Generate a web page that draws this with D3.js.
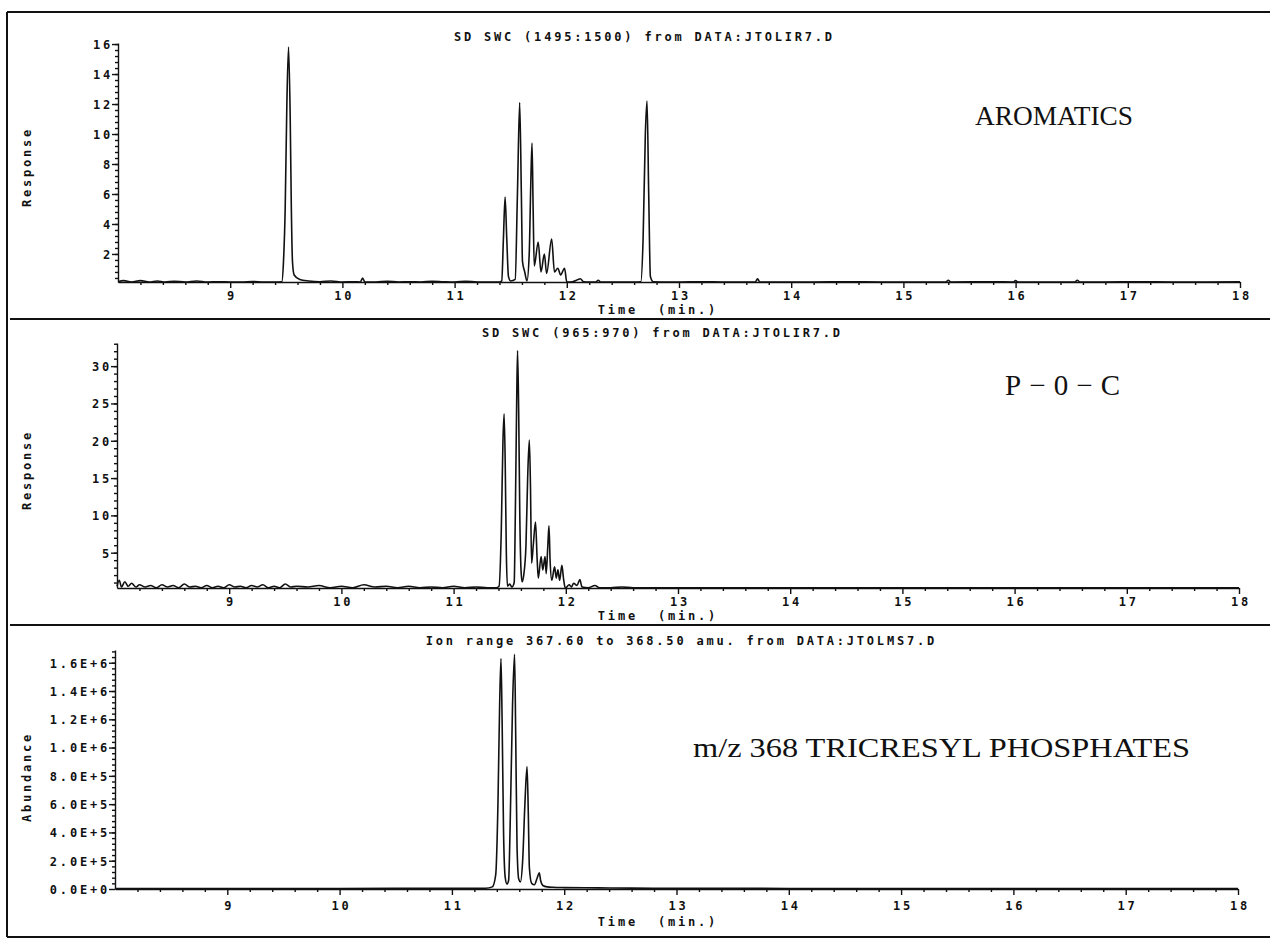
<!DOCTYPE html>
<html>
<head>
<meta charset="utf-8">
<script src="https://cdn.jsdelivr.net/npm/d3@7"></script>
<style>
  body { margin: 0; background: #fff; }
  svg { display: block; }
  .mono { font-family: "DejaVu Sans Mono", monospace; font-size: 12px; font-weight: bold; letter-spacing: 2.8px; fill: #111; white-space: pre; }
  .tick text { font-family: "DejaVu Sans Mono", monospace; font-size: 12px; font-weight: bold; letter-spacing: 2.8px; fill: #111; }
  .tick line, .domain { stroke: #111; stroke-width: 1.4px; }
  .big { font-family: "Liberation Serif", "Times New Roman", serif; font-size: 27px; fill: #111; }
</style>
</head>
<body>
<div id="chart"></div>
<script>
// chromatogram traces, [time (min), value]
var aromatics = [
  [8.00,0.15],[8.05,0.22],[8.12,0.10],[8.20,0.22],[8.28,0.12],[8.35,0.20],[8.42,0.10],[8.50,0.18],
  [8.60,0.10],[8.70,0.20],[8.80,0.12],[8.90,0.15],[9.00,0.05],[9.10,0.10],[9.20,0.16],[9.30,0.10],
  [9.40,0.08],[9.46,0.15],[9.475,1.5],[9.49,5],[9.505,12],[9.52,15.8],[9.535,11],[9.545,5],
  [9.555,1.5],[9.57,0.6],[9.62,0.3],[9.70,0.2],[9.80,0.15],[9.90,0.2],[10.00,0.10],[10.10,0.15],
  [10.16,0.12],[10.18,0.4],[10.20,0.12],[10.30,0.12],[10.40,0.18],[10.50,0.10],[10.60,0.15],[10.70,0.10],
  [10.80,0.18],[10.90,0.15],[11.00,0.12],[11.10,0.18],[11.20,0.10],[11.30,0.12],[11.40,0.10],
  [11.42,0.2],[11.435,3],[11.45,5.8],[11.465,3],[11.48,0.5],[11.50,0.2],[11.54,0.3],[11.56,6],
  [11.58,12.1],[11.595,6],[11.605,1.5],[11.625,0.8],[11.645,0.2],[11.665,2],[11.68,7],[11.69,9.4],
  [11.70,5],[11.71,1.2],[11.745,2.8],[11.77,0.8],[11.80,2.0],[11.82,0.7],[11.865,3.0],[11.89,0.8],
  [11.92,1.05],[11.945,0.6],[11.98,1.05],[12.00,0.05],[12.05,0.15],[12.10,0.3],[12.12,0.35],
  [12.15,0.15],[12.20,0.10],[12.26,0.12],[12.28,0.25],[12.30,0.10],[12.40,0.10],[12.50,0.12],[12.60,0.10],
  [12.66,0.15],[12.68,3],[12.70,10],[12.715,12.2],[12.73,6],[12.745,0.5],[12.77,0.15],[12.90,0.12],
  [13.00,0.10],[13.20,0.15],[13.40,0.10],[13.60,0.12],[13.68,0.12],[13.70,0.35],[13.72,0.10],[13.90,0.12],
  [14.20,0.10],[14.50,0.15],[14.80,0.10],[15.10,0.12],[15.38,0.12],[15.40,0.25],[15.42,0.10],[15.80,0.15],
  [15.98,0.12],[16.00,0.22],[16.02,0.12],[16.30,0.12],[16.53,0.12],[16.55,0.25],[16.57,0.10],[16.80,0.10],
  [17.10,0.15],[17.40,0.12],[17.70,0.10],[18.00,0.15]
];
var poc = [
  [8.00,0.5],[8.02,1.3],[8.04,0.4],[8.07,1.1],[8.10,0.5],[8.13,0.9],[8.17,0.4],[8.20,0.7],
  [8.25,0.4],[8.30,0.6],[8.35,0.3],[8.40,0.7],[8.45,0.4],[8.50,0.6],[8.55,0.3],[8.60,0.8],
  [8.65,0.4],[8.70,0.5],[8.75,0.3],[8.80,0.6],[8.85,0.3],[8.90,0.5],[8.95,0.3],[9.00,0.7],
  [9.05,0.4],[9.10,0.5],[9.15,0.3],[9.20,0.6],[9.25,0.4],[9.30,0.7],[9.35,0.3],[9.40,0.5],
  [9.45,0.3],[9.50,0.8],[9.55,0.4],[9.60,0.5],[9.70,0.4],[9.80,0.6],[9.90,0.3],[10.00,0.5],
  [10.10,0.3],[10.20,0.7],[10.30,0.4],[10.40,0.5],[10.50,0.3],[10.60,0.5],[10.70,0.3],[10.80,0.4],
  [10.90,0.3],[11.00,0.5],[11.10,0.3],[11.20,0.4],[11.30,0.3],[11.38,0.3],[11.405,0.5],[11.425,8],
  [11.44,20],[11.45,23.6],[11.46,17],[11.47,5],[11.48,0.5],[11.50,0.8],[11.52,0.4],[11.54,1],
  [11.55,10],[11.562,25],[11.57,32.1],[11.58,24],[11.59,10],[11.60,3],[11.61,1.1],[11.625,2],
  [11.645,6],[11.66,15],[11.675,20.1],[11.685,14],[11.695,3.6],[11.71,6],[11.73,9.1],[11.745,4],
  [11.755,1.6],[11.78,4.5],[11.795,2.7],[11.815,4.5],[11.825,2.2],[11.84,6],[11.85,8.6],[11.86,4],
  [11.875,1.3],[11.90,3.1],[11.915,1.6],[11.93,2.7],[11.945,1.3],[11.965,3.3],[11.98,1.5],
  [11.995,0.2],[12.03,0.7],[12.05,0.4],[12.07,0.9],[12.10,0.6],[12.125,1.4],[12.145,0.4],
  [12.20,0.3],[12.26,0.6],[12.30,0.3],[12.40,0.3],[12.50,0.4],[12.60,0.3],[12.80,0.3],[13.00,0.3],
  [13.30,0.3],[13.60,0.3],[14.00,0.3],[14.50,0.3],[15.00,0.3],[15.50,0.3],[16.00,0.3],
  [16.50,0.3],[17.00,0.3],[17.50,0.3],[18.00,0.3]
];
var ions = [
  [8.00,4000],[9.00,4000],[10.00,4000],[11.00,5000],[11.30,5000],[11.36,15000],[11.39,100000],
  [11.41,600000],[11.425,1300000],[11.437,1630000],[11.447,1200000],[11.46,400000],[11.475,80000],
  [11.49,35000],[11.505,60000],[11.52,500000],[11.54,1300000],[11.558,1660000],[11.568,1100000],
  [11.58,300000],[11.595,70000],[11.61,50000],[11.63,200000],[11.65,600000],[11.669,866000],
  [11.68,550000],[11.69,150000],[11.71,40000],[11.735,30000],[11.76,80000],[11.778,115000],
  [11.79,60000],[11.81,25000],[11.85,15000],[11.90,12000],[12.00,10000],[12.30,8000],[12.60,6000],
  [13.00,5000],[14.00,4000],[16.00,3000],[18.00,3000]
];

var titles = [
  "SD SWC (1495:1500) from DATA:JTOLIR7.D",
  "SD SWC (965:970) from DATA:JTOLIR7.D",
  "Ion range 367.60 to 368.50 amu. from DATA:JTOLMS7.D"
];
var labels = ["AROMATICS", "P\u22120\u2212C", "m/z 368 TRICRESYL PHOSPHATES"];
var yTitles = ["Response", "Response", "Abundance"];
var timeTicks = [9, 10, 11, 12, 13, 14, 15, 16, 17, 18];
var respTicksTop = [2, 4, 6, 8, 10, 12, 14, 16];
var respTicksMid = [5, 10, 15, 20, 25, 30];
var abundTicks = [0, 200000, 400000, 600000, 800000, 1000000, 1200000, 1400000, 1600000];

var W = 1270, H = 939;
var svg = d3.select("#chart").append("svg").attr("width", W).attr("height", H);

// frame and panel separators
var frame = svg.append("g").attr("stroke", "#111").attr("stroke-width", 2);
frame.append("line").attr("x1", 7).attr("y1", 12).attr("x2", W).attr("y2", 12);
frame.append("line").attr("x1", 7).attr("y1", 12).attr("x2", 7).attr("y2", 937);
frame.append("line").attr("x1", 7).attr("y1", 937).attr("x2", W).attr("y2", 937);
frame.append("line").attr("x1", 10).attr("y1", 319).attr("x2", W).attr("y2", 319);
frame.append("line").attr("x1", 10).attr("y1", 625).attr("x2", W).attr("y2", 625);

var panels = [
  { data: aromatics, ticks: respTicksTop, fmt: d3.format("d"), minor: 0.4,
    yDom: [0.13, 16.07], yRng: [282, 43], xRng: [118, 1240],
    titleX: 643, titleY: 41, tickY: 296, timeY: 314, yTitleY: 167,
    lab: { x: 975, y: 125, w: 158, size: 27, adj: "spacingAndGlyphs" } },
  { data: poc, ticks: respTicksMid, fmt: d3.format("d"), minor: 1,
    yDom: [0.27, 33.1], yRng: [588, 343], xRng: [117, 1239],
    titleX: 661, titleY: 337, tickY: 602, timeY: 620, yTitleY: 470,
    lab: { x: 1005, y: 395, w: 115, size: 29, adj: "spacing" } },
  { data: ions, ticks: abundTicks, fmt: function(d){ return d3.format(".1e")(d).toUpperCase(); }, minor: 40000,
    yDom: [0, 1690000], yRng: [889, 650], xRng: [115, 1238],
    titleX: 680, titleY: 645, tickY: 906, timeY: 926, yTitleY: 777,
    lab: { x: 693, y: 757, w: 497, size: 27, adj: "spacingAndGlyphs" } }
];

panels.forEach(function(p, i) {
  var g = svg.append("g");
  var x = d3.scaleLinear().domain([8, 18]).range(p.xRng);
  var y = d3.scaleLinear().domain(p.yDom).range(p.yRng);
  var x0 = p.xRng[0], yb = p.yRng[0];

  // minor y ticks
  var minorVals = d3.range(p.minor, p.yDom[1], p.minor).filter(function(v){ return v > p.yDom[0]; });
  g.append("g").attr("transform", "translate(" + x0 + ",0)")
    .call(d3.axisLeft(y).tickValues(minorVals).tickFormat("").tickSize(3).tickSizeOuter(0))
    .select(".domain").remove();
  // major y ticks
  var ya = g.append("g").attr("transform", "translate(" + x0 + ",0)")
    .call(d3.axisLeft(y).tickValues(p.ticks).tickFormat(p.fmt).tickSize(6).tickSizeOuter(0));
  ya.selectAll(".tick text").attr("x", -5).attr("dy", "0.36em");

  // minor x ticks
  var xMinor = d3.range(8.2, 18, 0.2).filter(function(v){ return Math.abs(v - Math.round(v)) > 0.01; });
  g.append("g").attr("transform", "translate(0," + yb + ")")
    .call(d3.axisBottom(x).tickValues(xMinor).tickFormat("").tickSize(3).tickSizeOuter(0))
    .select(".domain").remove();
  var xa = g.append("g").attr("transform", "translate(0," + yb + ")")
    .call(d3.axisBottom(x).tickValues(timeTicks).tickFormat(d3.format("d")).tickSize(6).tickSizeOuter(0));
  xa.selectAll(".tick text").attr("y", p.tickY - yb).attr("dy", "0.36em").attr("dx", "1.4px");

  // trace
  var line = d3.line()
    .x(function(d){ return x(d[0]); })
    .y(function(d){ return y(Math.max(d[1], p.yDom[0])); })
    .curve(d3.curveMonotoneX);
  g.append("path").datum(p.data)
    .attr("d", line)
    .attr("fill", "none")
    .attr("stroke", "#111")
    .attr("stroke-width", 1.6)
    .attr("stroke-linejoin", "round");

  // texts
  g.append("text").attr("class", "mono").attr("x", p.titleX + 1.4).attr("y", p.titleY)
    .attr("text-anchor", "middle").text(titles[i]);
  g.append("text").attr("class", "mono").attr("x", 658).attr("y", p.timeY)
    .attr("text-anchor", "middle").text("Time  (min.)");
  g.append("text").attr("class", "mono")
    .attr("transform", "translate(31," + p.yTitleY + ") rotate(-90)")
    .attr("text-anchor", "middle").text(yTitles[i]);
  g.append("text").attr("class", "big").attr("x", p.lab.x).attr("y", p.lab.y)
    .style("font-size", p.lab.size + "px")
    .attr("textLength", p.lab.w).attr("lengthAdjust", p.lab.adj)
    .text(labels[i]);
});
</script>
</body>
</html>
